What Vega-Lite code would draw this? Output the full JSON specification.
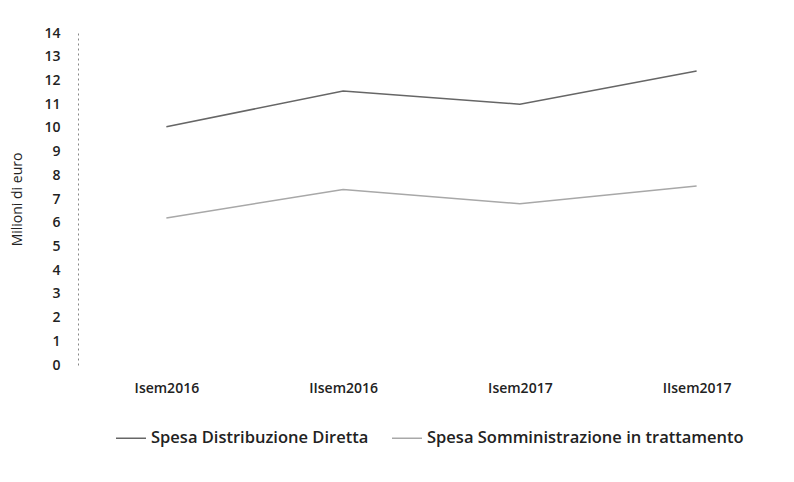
{
  "$schema": "https://vega.github.io/schema/vega-lite/v6.json",
  "width": 707,
  "height": 332,
  "autosize": {"type": "none"},
  "padding": {"left": 78, "top": 33, "right": 9, "bottom": 117},
  "background": "white",
  "config": {"view": {"stroke": null}, "font": "Open Sans"},
  "data": {
    "values": [
      {"periodo": "Isem2016", "serie": "Spesa Distribuzione Diretta", "valore": 10.05},
      {"periodo": "IIsem2016", "serie": "Spesa Distribuzione Diretta", "valore": 11.55},
      {"periodo": "Isem2017", "serie": "Spesa Distribuzione Diretta", "valore": 11.0},
      {"periodo": "IIsem2017", "serie": "Spesa Distribuzione Diretta", "valore": 12.4},
      {"periodo": "Isem2016", "serie": "Spesa Somministrazione in trattamento", "valore": 6.2},
      {"periodo": "IIsem2016", "serie": "Spesa Somministrazione in trattamento", "valore": 7.4},
      {"periodo": "Isem2017", "serie": "Spesa Somministrazione in trattamento", "valore": 6.8},
      {"periodo": "IIsem2017", "serie": "Spesa Somministrazione in trattamento", "valore": 7.55}
    ]
  },
  "mark": {"type": "line", "strokeWidth": 1.5},
  "encoding": {
    "x": {
      "field": "periodo",
      "type": "ordinal",
      "sort": ["Isem2016", "IIsem2016", "Isem2017", "IIsem2017"],
      "scale": {"type": "point", "padding": 0.5},
      "axis": {
        "title": null,
        "labelAngle": 0,
        "domain": false,
        "ticks": false,
        "labelFontSize": 14,
        "labelFontWeight": 600,
        "labelColor": "#222",
        "labelPadding": 16
      }
    },
    "y": {
      "field": "valore",
      "type": "quantitative",
      "scale": {"domain": [0, 14], "nice": false},
      "axis": {
        "title": "Milioni di euro",
        "titleFontSize": 14,
        "titleFontWeight": "normal",
        "titleColor": "#222",
        "titlePadding": 19,
        "values": [0,1,2,3,4,5,6,7,8,9,10,11,12,13,14],
        "grid": false,
        "ticks": false,
        "domainColor": "#888",
        "domainDash": [2, 3],
        "labelFontSize": 14,
        "labelFontWeight": 600,
        "labelColor": "#222",
        "labelPadding": 18
      }
    },
    "color": {
      "field": "serie",
      "type": "nominal",
      "scale": {"range": ["#666666", "#a8a8a8"]},
      "legend": {
        "title": null,
        "orient": "none",
        "direction": "horizontal",
        "legendX": 37,
        "legendY": 389,
        "symbolType": "stroke",
        "symbolStrokeWidth": 1.5,
        "symbolSize": 900,
        "labelFontSize": 16.5,
        "labelFontWeight": 600,
        "labelColor": "#222",
        "labelLimit": 400,
        "labelOffset": 4,
        "columnPadding": 20
      }
    }
  }
}
